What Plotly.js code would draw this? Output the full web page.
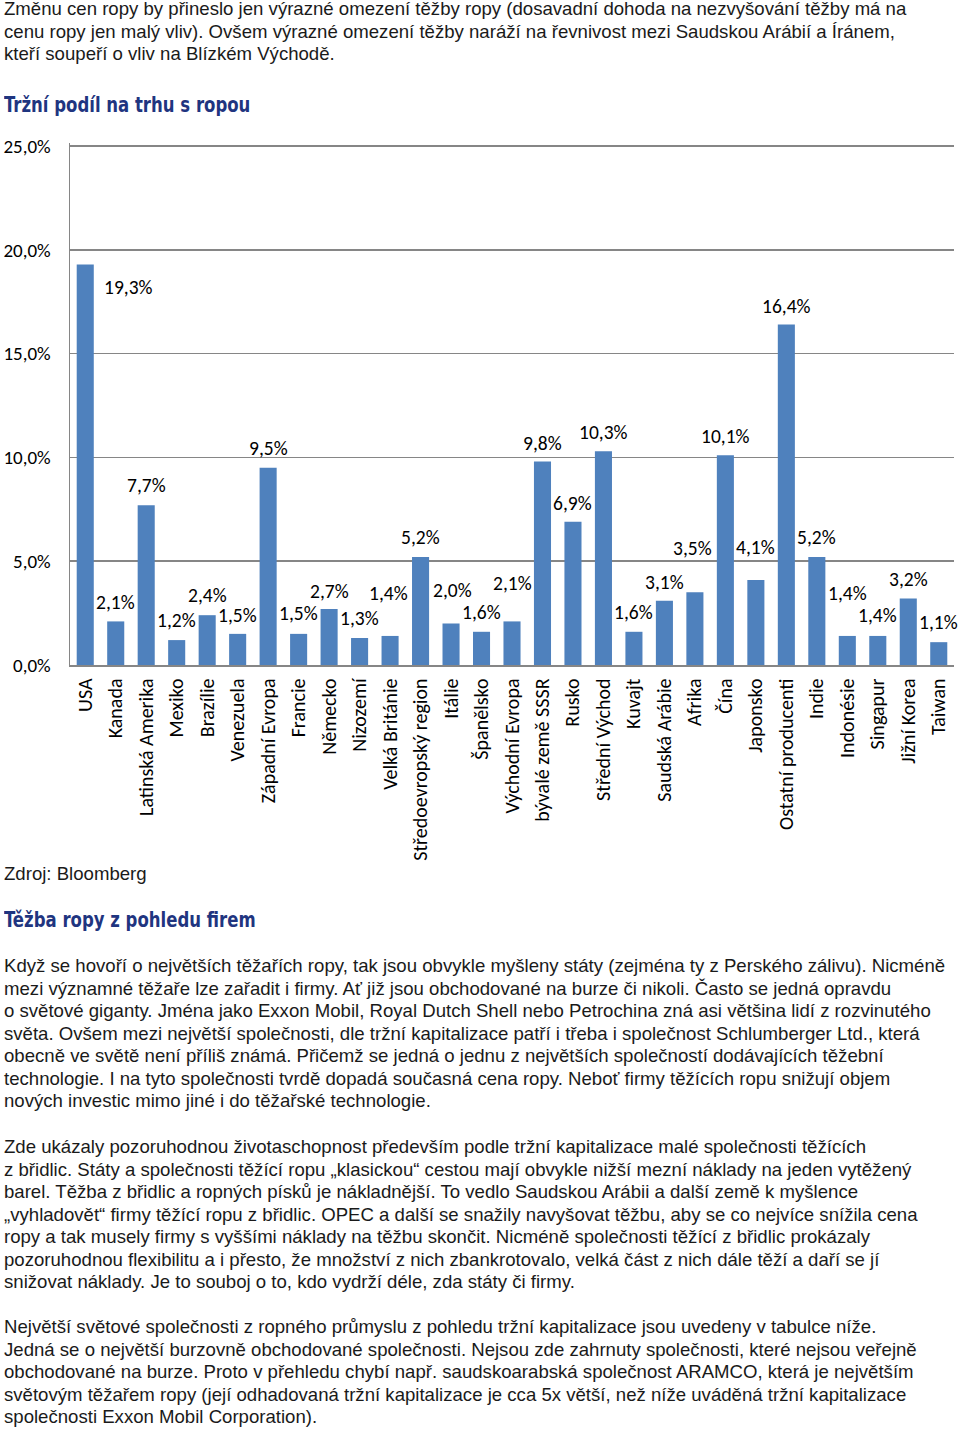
<!DOCTYPE html>
<html>
<head>
<meta charset="utf-8">
<script src="https://cdn.plot.ly/plotly-3.0.1.min.js"></script>
<style>
  html, body { margin: 0; padding: 0; background: #fff; }
  body { width: 960px; height: 1430px; position: relative; overflow: hidden; }
  .txt { position: absolute; left: 4px; font-family: "Liberation Sans", Arial, sans-serif; font-size: 18.6px; line-height: 22.5px; color: #1a1a1a; white-space: nowrap; }
  .hd { position: absolute; left: 4px; font-family: "Liberation Sans Narrow", "DejaVu Sans Condensed", sans-serif; font-weight: bold; font-size: 22px; line-height: 24px; color: #1f3580; white-space: nowrap; transform: scaleX(0.835); transform-origin: left center; }
  #chart { position: absolute; left: 0; top: 130px; width: 960px; height: 740px; }
</style>
</head>
<body>
<div class="txt" style="top:-2px">Změnu cen ropy by přineslo jen výrazné omezení těžby ropy (dosavadní dohoda na nezvyšování těžby má na<br>cenu ropy jen malý vliv). Ovšem výrazné omezení těžby naráží na řevnivost mezi Saudskou Arábií a Íránem,<br>kteří soupeří o vliv na Blízkém Východě.</div>
<div class="hd" style="top:93px">Tržní podíl na trhu s ropou</div>
<div id="chart"></div>
<div class="txt" style="top:863px">Zdroj: Bloomberg</div>
<div class="hd" style="top:908px">Těžba ropy z pohledu firem</div>
<div class="txt" style="top:955px">Když se hovoří o největších těžařích ropy, tak jsou obvykle myšleny státy (zejména ty z Perského zálivu). Nicméně<br>mezi významné těžaře lze zařadit i firmy. Ať již jsou obchodované na burze či nikoli. Často se jedná opravdu<br>o světové giganty. Jména jako Exxon Mobil, Royal Dutch Shell nebo Petrochina zná asi většina lidí z rozvinutého<br>světa. Ovšem mezi největší společnosti, dle tržní kapitalizace patří i třeba i společnost Schlumberger Ltd., která<br>obecně ve světě není příliš známá. Přičemž se jedná o jednu z největších společností dodávajících těžební<br>technologie. I na tyto společnosti tvrdě dopadá současná cena ropy. Neboť firmy těžících ropu snižují objem<br>nových investic mimo jiné i do těžařské technologie.</div>
<div class="txt" style="top:1136px">Zde ukázaly pozoruhodnou životaschopnost především podle tržní kapitalizace malé společnosti těžících<br>z břidlic. Státy a společnosti těžící ropu „klasickou“ cestou mají obvykle nižší mezní náklady na jeden vytěžený<br>barel. Těžba z břidlic a ropných písků je nákladnější. To vedlo Saudskou Arábii a další země k myšlence<br>„vyhladovět“ firmy těžící ropu z břidlic. OPEC a další se snažily navyšovat těžbu, aby se co nejvíce snížila cena<br>ropy a tak musely firmy s vyššími náklady na těžbu skončit. Nicméně společnosti těžící z břidlic prokázaly<br>pozoruhodnou flexibilitu a i přesto, že množství z nich zbankrotovalo, velká část z nich dále těží a daří se jí<br>snižovat náklady. Je to souboj o to, kdo vydrží déle, zda státy či firmy.</div>
<div class="txt" style="top:1316px">Největší světové společnosti z ropného průmyslu z pohledu tržní kapitalizace jsou uvedeny v tabulce níže.<br>Jedná se o největší burzovně obchodované společnosti. Nejsou zde zahrnuty společnosti, které nejsou veřejně<br>obchodované na burze. Proto v přehledu chybí např. saudskoarabská společnost ARAMCO, která je největším<br>světovým těžařem ropy (její odhadovaná tržní kapitalizace je cca 5x větší, než níže uváděná tržní kapitalizace<br>společnosti Exxon Mobil Corporation).</div>
<script>
// ---- data ----
var categories = ["USA", "Kanada", "Latinská Amerika", "Mexiko", "Brazílie", "Venezuela", "Západní Evropa", "Francie", "Německo", "Nizozemí", "Velká Británie", "Středoevropský region", "Itálie", "Španělsko", "Východní Evropa", "bývalé země SSSR", "Rusko", "Střední Východ", "Kuvajt", "Saudská Arábie", "Afrika", "Čína", "Japonsko", "Ostatní producenti", "Indie", "Indonésie", "Singapur", "Jižní Korea", "Taiwan"];
var shares = [19.3, 2.1, 7.7, 1.2, 2.4, 1.5, 9.5, 1.5, 2.7, 1.3, 1.4, 5.2, 2.0, 1.6, 2.1, 9.8, 6.9, 10.3, 1.6, 3.1, 3.5, 10.1, 4.1, 16.4, 5.2, 1.4, 1.4, 3.2, 1.1];
var yTickValues = [0, 5, 10, 15, 20, 25];

// ---- label placement (style, pixels) ----
var labelRaise = [-23, 19, 20, 20, 20, 19, 20, 21, 18, 20, 43, 20, 33, 20, 38, 19, 19, 19, 20, 19, 44, 19, 33, 19, 20, 43, 21, 20, 20];
var labelSide  = [43, 0, 0, 0, 0, 0, 0, 0, 0, 0, -2, 0, 1, 0, 0, 0, 0, 0, 0, 0, -2, 0, 0, 0, 0, 0, 0, 0, 0];

var chartFont = "Carlito, Lato, 'Open Sans', sans-serif";
function pct(v) { return v.toFixed(1).replace('.', ',') + '%'; }

var annotations = categories.map(function (c, i) {
  return {
    x: c, y: shares[i], xref: 'x', yref: 'y',
    text: pct(shares[i]), showarrow: false,
    xanchor: 'center', yanchor: 'middle',
    yshift: labelRaise[i], xshift: labelSide[i],
    font: { family: chartFont, size: 19.5, color: '#000' }
  };
});

var trace = {
  type: 'bar',
  x: categories,
  y: shares,
  marker: { color: '#4f81bd' },
  hoverinfo: 'none'
};

var layout = {
  width: 960, height: 740,
  margin: { l: 70, r: 6, t: 13, b: 205 },
  paper_bgcolor: '#fff', plot_bgcolor: '#fff',
  showlegend: false,
  bargap: 0.44,
  font: { family: chartFont, size: 18, color: '#000' },
  xaxis: {
    type: 'category',
    range: [-0.5, categories.length - 0.5],
    tickangle: -90,
    showline: true, linecolor: '#868686', linewidth: 1.5,
    showgrid: false, ticks: '',
    tickfont: { family: chartFont, size: 20, color: '#000' },
    ticklabelstandoff: 4
  },
  yaxis: {
    range: [0, 25.15],
    tickvals: yTickValues,
    ticktext: yTickValues.map(pct),
    showline: true, linecolor: '#868686', linewidth: 1.5,
    showgrid: true, gridcolor: '#868686', gridwidth: 1.5,
    zeroline: false, ticks: '',
    tickfont: { family: chartFont, size: 19, color: '#000' },
    ticklabelstandoff: 14
  },
  annotations: annotations
};

Plotly.newPlot('chart', [trace], layout, { staticPlot: true, displayModeBar: false });
</script>
</body>
</html>
